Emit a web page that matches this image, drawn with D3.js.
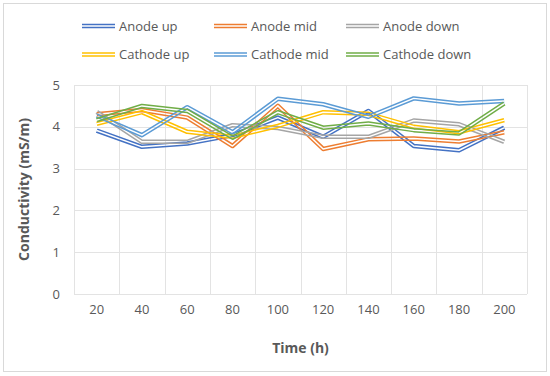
<!DOCTYPE html>
<html>
<head>
<meta charset="utf-8">
<script src="https://cdn.jsdelivr.net/npm/d3@7/dist/d3.min.js"></script>
<style>
  html, body { margin: 0; padding: 0; background: #fff; }
  svg { display: block; font-family: "Open Sans", sans-serif; }
</style>
</head>
<body>
<svg id="chart" width="550" height="376"></svg>
<script>
const categories = ["20", "40", "60", "80", "100", "120", "140", "160", "180", "200"];
const seriesNames = ["Anode up", "Anode mid", "Anode down", "Cathode up", "Cathode mid", "Cathode down"];
const anodeUp     = [3.91, 3.52, 3.60, 3.80, 4.22, 3.76, 4.38, 3.54, 3.44, 3.98];
const anodeMid    = [4.30, 4.40, 4.22, 3.54, 4.50, 3.47, 3.70, 3.72, 3.65, 3.87];
const anodeDown   = [4.36, 3.64, 3.64, 4.04, 3.97, 3.76, 3.76, 4.15, 4.06, 3.64];
const cathodeUp   = [4.07, 4.35, 3.88, 3.76, 4.02, 4.35, 4.31, 4.00, 3.87, 4.16];
const cathodeMid  = [4.27, 3.80, 4.47, 3.87, 4.67, 4.54, 4.24, 4.68, 4.56, 4.62];
const cathodeDown = [4.16, 4.50, 4.38, 3.74, 4.35, 3.98, 4.08, 3.92, 3.84, 4.56];
const seriesValues = [anodeUp, anodeMid, anodeDown, cathodeUp, cathodeMid, cathodeDown];
const colors = ["#4472C4", "#ED7D31", "#A5A5A5", "#FFC000", "#5B9BD5", "#70AD47"];
const yTicks = [0, 1, 2, 3, 4, 5];

const svg = d3.select("#chart");
const W = 550, H = 376;
const plot = { left: 74, right: 527, top: 85, bottom: 294 };
const textColor = "#595959";
const gridColor = "#e3e3e3";

// chart border
svg.append("rect").attr("x", 3.5).attr("y", 3.5).attr("width", 543).attr("height", 368)
  .attr("fill", "#fff").attr("stroke", "#d9d9d9").attr("stroke-width", 1);

const x = d3.scaleBand().domain(categories).range([plot.left, plot.right]).padding(0);
const y = d3.scaleLinear().domain([0, 5]).range([plot.bottom, plot.top]);

// horizontal gridlines
svg.append("g").selectAll("line").data(yTicks).join("line")
  .attr("x1", plot.left).attr("x2", plot.right)
  .attr("y1", d => Math.round(y(d)) + 0.5).attr("y2", d => Math.round(y(d)) + 0.5)
  .attr("stroke", gridColor).attr("stroke-width", 1);

// vertical gridlines at category boundaries
const bounds = categories.map(c => x(c)).concat([plot.right]);
svg.append("g").selectAll("line").data(bounds).join("line")
  .attr("x1", d => Math.round(d) + 0.5).attr("x2", d => Math.round(d) + 0.5)
  .attr("y1", plot.top).attr("y2", plot.bottom)
  .attr("stroke", gridColor).attr("stroke-width", 1);

// y axis labels
const yAxis = d3.axisLeft(y).tickValues(yTicks).tickSize(0).tickPadding(14).tickFormat(d3.format("d"));
const gy = svg.append("g").attr("transform", `translate(${plot.left},0)`).call(yAxis);
gy.select(".domain").remove();
gy.selectAll("text").attr("fill", textColor).style("font-size", "13px").style("font-family", "Open Sans");

// x axis labels
const xAxis = d3.axisBottom(x).tickSize(0).tickPadding(11);
const gx = svg.append("g").attr("transform", `translate(0,${plot.bottom})`).call(xAxis);
gx.select(".domain").remove();
gx.selectAll("text").attr("fill", textColor).style("font-size", "13px").style("font-family", "Open Sans");

// axis titles
svg.append("text").attr("x", (plot.left + plot.right) / 2).attr("y", 353)
  .attr("text-anchor", "middle").attr("fill", textColor)
  .style("font-size", "14px").style("font-weight", "bold").text("Time (h)");
svg.append("text").attr("transform", `translate(29,${(plot.top + plot.bottom) / 2}) rotate(-90)`)
  .attr("text-anchor", "middle").attr("fill", textColor)
  .style("font-size", "14px").style("font-weight", "bold").text("Conductivity (mS/m)");

// double-line rendering using masks
const defs = svg.append("defs");
const line = d3.line().x((d, i) => x(categories[i]) + x.bandwidth() / 2).y(d => y(d));

seriesValues.forEach((vals, si) => {
  const id = "m" + si;
  const d = line(vals);
  const mask = defs.append("mask").attr("id", id).attr("maskUnits", "userSpaceOnUse")
    .attr("x", 0).attr("y", 0).attr("width", W).attr("height", H);
  mask.append("path").attr("d", d).attr("fill", "none").attr("stroke", "#fff").attr("stroke-width", 8);
  mask.append("path").attr("d", d).attr("fill", "none").attr("stroke", "#000").attr("stroke-width", 1.5)
    .attr("stroke-linejoin", "round");
  svg.append("path").attr("d", d).attr("fill", "none").attr("stroke", colors[si])
    .attr("stroke-width", 4.5).attr("stroke-linejoin", "round").attr("mask", `url(#${id})`);
});

// legend
const legX = [82, 214, 346];
const legY = [26, 54.5];
const leg = svg.append("g");
seriesNames.forEach((name, i) => {
  const lx = legX[i % 3], ly = legY[Math.floor(i / 3)];
  const g = leg.append("g");
  const lid = "lm" + i;
  const ld = `M${lx},${ly}H${lx + 33}`;
  const mask = defs.append("mask").attr("id", lid).attr("maskUnits", "userSpaceOnUse")
    .attr("x", 0).attr("y", 0).attr("width", W).attr("height", H);
  mask.append("path").attr("d", ld).attr("stroke", "#fff").attr("stroke-width", 8);
  mask.append("path").attr("d", ld).attr("stroke", "#000").attr("stroke-width", 1.5);
  g.append("path").attr("d", ld).attr("stroke", colors[i]).attr("stroke-width", 4.5).attr("mask", `url(#${lid})`);
  g.append("text").attr("x", lx + 37).attr("y", ly).attr("dy", "0.35em")
    .attr("fill", textColor).style("font-size", "13px").text(name);
});
</script>
</body>
</html>
